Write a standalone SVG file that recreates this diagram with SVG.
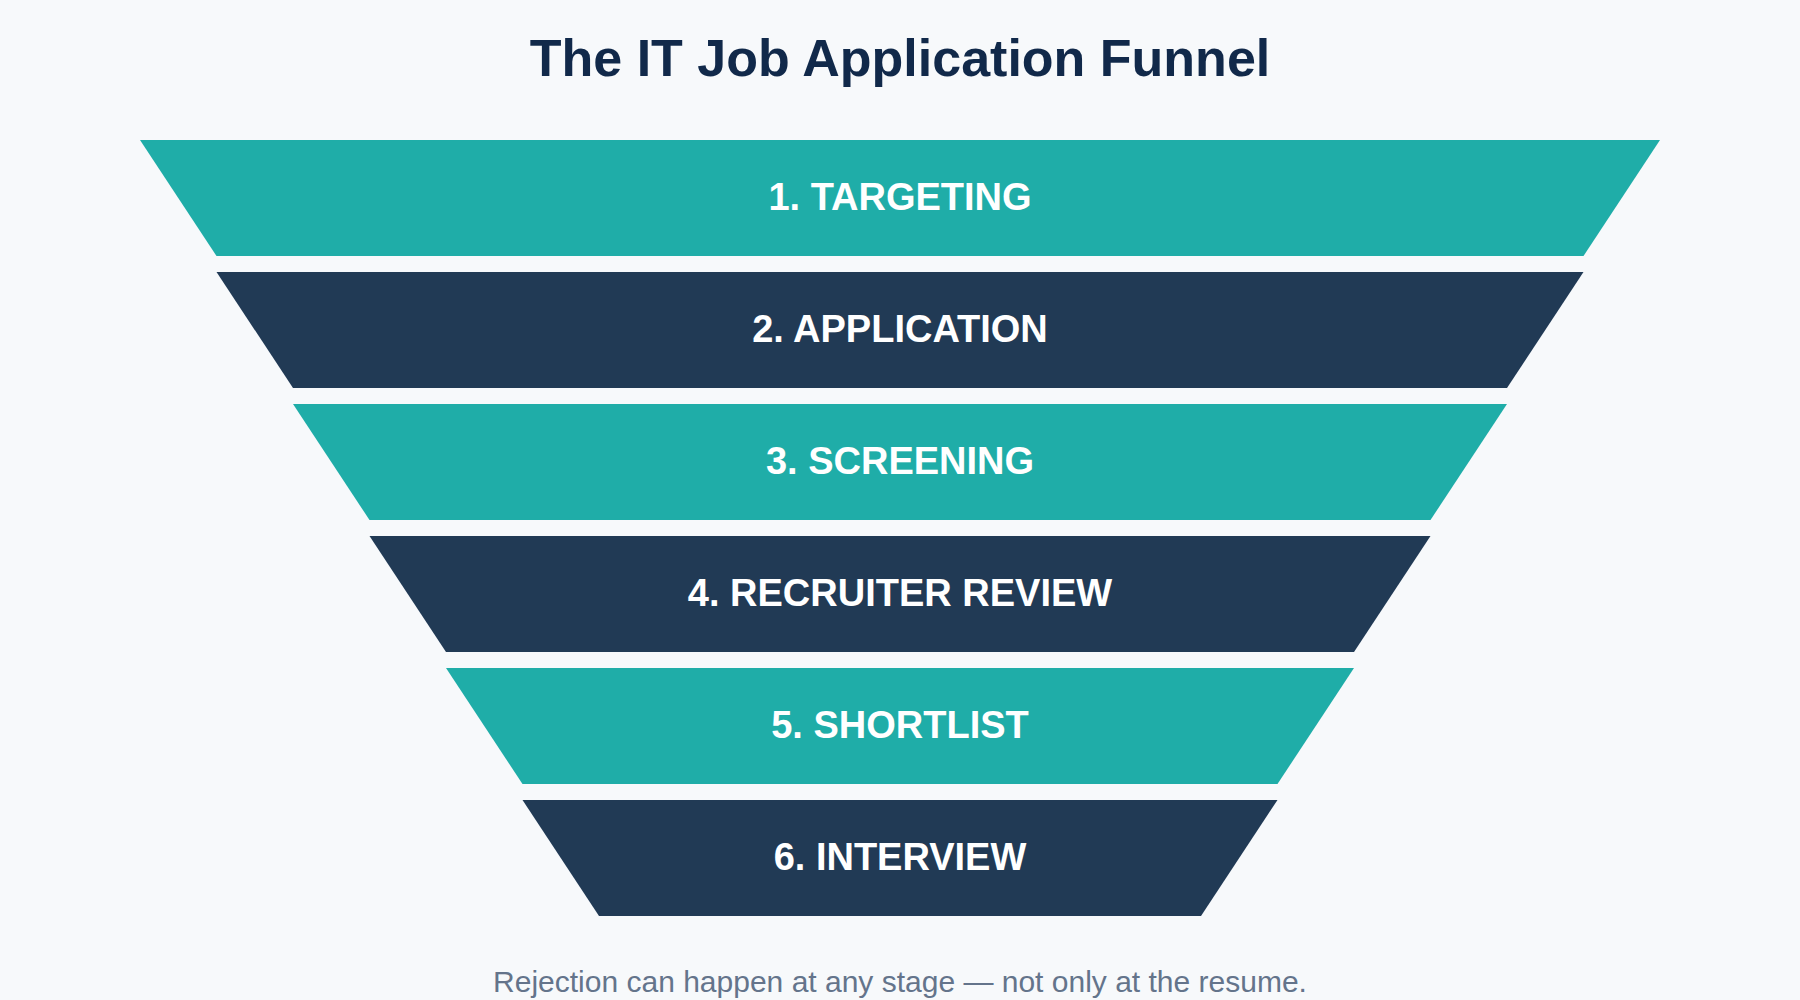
<svg xmlns="http://www.w3.org/2000/svg" width="1800" height="1000" viewBox="0 0 1800 1000">
<style>
.title{font-family:"Liberation Sans",Arial,sans-serif;font-weight:700;font-size:52px;fill:#11294a;text-anchor:middle}
.lbl{font-family:"Liberation Sans",Arial,sans-serif;font-weight:700;font-size:38px;fill:#ffffff;text-anchor:middle}
.foot{font-family:"Liberation Sans",Arial,sans-serif;font-size:30px;fill:#64748b;text-anchor:middle}
.teal{fill:#1fada8}
.navy{fill:#213a55}
</style>
<rect width="1800" height="1000" fill="#f7f9fb"/>
<text class="title" x="900" y="76">The IT Job Application Funnel</text>
<g id="stage1"><polygon class="teal" points="140,140 1660,140 1583.5,256 216.5,256"/><text class="lbl" x="900" y="210">1. TARGETING</text></g>
<g id="stage2"><polygon class="navy" points="216.5,272 1583.5,272 1507,388 293,388"/><text class="lbl" x="900" y="342">2. APPLICATION</text></g>
<g id="stage3"><polygon class="teal" points="293,404 1507,404 1430.5,520 369.5,520"/><text class="lbl" x="900" y="474">3. SCREENING</text></g>
<g id="stage4"><polygon class="navy" points="369.5,536 1430.5,536 1354,652 446,652"/><text class="lbl" x="900" y="606">4. RECRUITER REVIEW</text></g>
<g id="stage5"><polygon class="teal" points="446,668 1354,668 1277.5,784 522.5,784"/><text class="lbl" x="900" y="738">5. SHORTLIST</text></g>
<g id="stage6"><polygon class="navy" points="522.5,800 1277.5,800 1201,916 599,916"/><text class="lbl" x="900" y="870">6. INTERVIEW</text></g>
<g id="connectors"></g>
<text class="foot" x="900" y="992">Rejection can happen at any stage — not only at the resume.</text>
</svg>
